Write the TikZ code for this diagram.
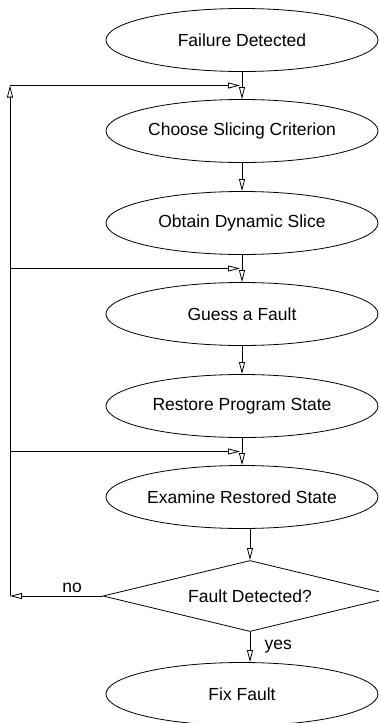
\documentclass[tikz,border=0pt]{standalone}
\usepackage{fontspec}
\setmainfont{Liberation Sans}
\usetikzlibrary{shapes.geometric, arrows.meta, calc}

\begin{document}
\begin{tikzpicture}[x=1pt, y=1pt, line width=0.8pt,
    font=\fontsize{17.5}{21}\selectfont,
    stepnode/.style={draw, ellipse, minimum width=272pt, minimum height=63pt, inner sep=0pt},
    decision/.style={draw, diamond, aspect=4.14, minimum width=294pt, minimum height=71pt, inner sep=0pt},
    flow/.style={-{Triangle[open, length=12pt, width=6pt]}}]
    \useasboundingbox (0,0) rectangle (378,-723);

    % Steps
    \node[stepnode] (fail) at (242,-40) {Failure Detected};
    \node[stepnode] (choose) at (242,-131) {Choose Slicing Criterion};
    \node[stepnode] (obtain) at (242,-223) {Obtain Dynamic Slice};
    \node[stepnode] (guess) at (242,-314) {Guess a Fault};
    \node[stepnode] (restore) at (242,-406) {Restore Program State};
    \node[stepnode] (examine) at (242,-497) {Examine Restored State};
    \node[decision] (detect) at (250,-596) {Fault Detected?};
    \node[stepnode] (fix) at (242,-694) {Fix Fault};

    % Join points of the loop
    \coordinate (back) at (10,-596);
    \coordinate (j1) at ($(fail.south)!0.5!(choose.north)$);
    \coordinate (j2) at ($(obtain.south)!0.5!(guess.north)$);
    \coordinate (j3) at ($(restore.south)!0.5!(examine.north)$);

    % Main flow
    \draw[flow] (fail) -- (choose);
    \draw[flow] (choose) -- (obtain);
    \draw[flow] (obtain) -- (guess);
    \draw[flow] (guess) -- (restore);
    \draw[flow] (restore) -- (examine);
    \draw[flow] (examine.south -| detect.north) -- (detect.north);
    \draw[flow] (detect.south) -- node[right=11pt] {yes} (detect.south |- fix.north);

    % Loop back
    \draw[flow] (detect.west) -- node[above, pos=0.33] {no} (back);
    \draw[flow] (back) -- (back |- j1);
    \draw[flow, shorten >=2pt] (back |- j1) -- (j1);
    \draw[flow, shorten >=2pt] (back |- j2) -- (j2);
    \draw[flow, shorten >=2pt] (back |- j3) -- (j3);
\end{tikzpicture}
\end{document}
